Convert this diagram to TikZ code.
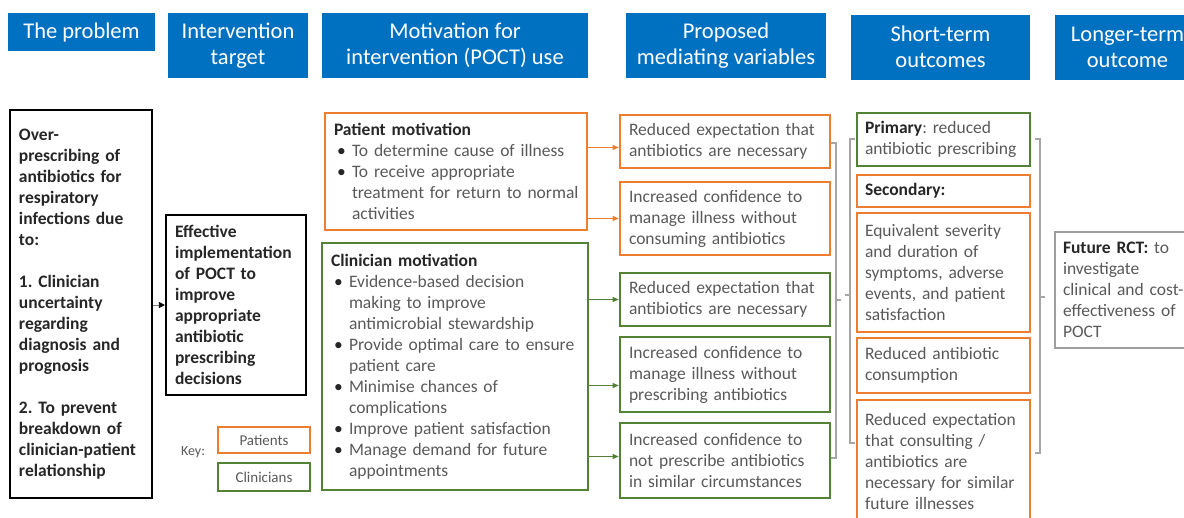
\documentclass[tikz,border=0pt]{standalone}
\usepackage{fontspec}
\setmainfont{Carlito}
\usetikzlibrary{positioning}
\usetikzlibrary{arrows.meta}
\definecolor{hblue}{HTML}{0070C0}
\definecolor{orng}{HTML}{ED7D31}
\definecolor{grn}{HTML}{538135}
\definecolor{txtg}{HTML}{595959}
\definecolor{txtk}{HTML}{262626}
\definecolor{brkgray}{HTML}{A6A6A6}
\frenchspacing
\hbadness=10000 \hfuzz=20pt
\newcommand{\bodyfont}{\fontsize{17.5}{21}\selectfont}
\newcommand{\Hd}[1]{\textbf{\textcolor{txtk}{#1}}}
\newcommand{\bitem}[1]{\par\hangindent=18pt\hangafter=1\noindent\makebox[18pt][l]{\hspace{3pt}\textcolor{txtk}{\textbullet}}#1\par}
\tikzset{
    hdr/.style = {rectangle, fill=hblue, text=white, align=center, inner sep=0pt, font=\fontsize{22.5}{26}\selectfont},
    boxk/.style = {rectangle, draw=black, line width=2.2pt, inner xsep=9pt, inner ysep=0pt, align=left, text=txtk, font=\bodyfont\bfseries},
    boxo/.style = {rectangle, draw=orng, line width=2.6pt, inner xsep=9pt, inner ysep=0pt, align=left, text=txtg, font=\bodyfont},
    boxg/.style = {rectangle, draw=grn, line width=2.6pt, inner xsep=9pt, inner ysep=0pt, align=left, text=txtg, font=\bodyfont},
    boxgr/.style = {rectangle, draw=gray!75, line width=1.4pt, inner xsep=8pt, inner ysep=0pt, align=left, text=txtg, font=\bodyfont},
    keybox/.style = {rectangle, line width=2pt, minimum width=92pt, text=txtg, font=\fontsize{15}{18}\selectfont},
    edgeo/.style = {-{Triangle[length=6pt,width=5pt]}, orng, line width=0.8pt},
    edgeg/.style = {-{Triangle[length=6pt,width=5pt]}, grn, line width=0.8pt},
    edgek/.style = {-{Triangle[length=6pt,width=6pt,color=black]}, gray, line width=0.8pt},
    brk/.style = {brkgray, line width=1.2pt}
}

\begin{document}
\begin{tikzpicture}[x=1pt,y=-1pt]
\useasboundingbox (0,0) rectangle (1184,517);
% column headers
\node[hdr, minimum width=147pt, minimum height=38pt] at (81.5,32) (hprob) {The problem};
\node[hdr, minimum width=140pt, minimum height=65pt] at (238,45.5) (htarg) {Intervention\\ target};
\node[hdr, minimum width=266pt, minimum height=65pt] at (455,45.5) (hmot) {Motivation for\\ intervention (POCT) use};
\node[hdr, minimum width=200pt, minimum height=65pt] at (726,45.5) (hmed) {Proposed\\ mediating variables};
\node[hdr, minimum width=179pt, minimum height=65pt] at (940.5,47) (hshort) {Short-term\\ outcomes};
\node[hdr, minimum width=145pt, minimum height=65pt] at (1127.5,47) (hlong) {Longer-term\\ outcome};
%
\node[boxk, text width=124pt, minimum height=388pt] at (81,304) (prob) {Over-\\ prescribing of\\ antibiotics for\\ respiratory\\ infections due\\ to:\\[21pt] 1. Clinician\\ uncertainty\\ regarding\\ diagnosis and\\ prognosis\\[21pt] 2. To prevent\\ breakdown of\\ clinician-patient\\ relationship};
\node[boxk, text width=122pt, minimum height=180pt] at (236,305) (targ) {Effective\\ implementation\\ of POCT to\\ improve\\ appropriate\\ antibiotic\\ prescribing\\ decisions};
% key
\node[keybox, draw=orng, minimum height=26pt] at (264,440) (keyp) {Patients};
\node[keybox, draw=grn, minimum height=28pt, below=8pt of keyp] (keyc) {Clinicians};
\node[text=txtg, font=\fontsize{14}{17}\selectfont] at (193,452) (keyl) {Key:};
%
\node[boxo, text width=244pt, minimum height=117pt] at (456,171.5) (pmot) {\Hd{Patient motivation}\bitem{To determine cause of illness}\bitem{To receive appropriate\newline \mbox{treatment for return to normal}\newline activities}};
\node[boxg, text width=248pt, minimum height=247pt] at (455,366.5) (cmot) {\Hd{Clinician motivation}\bitem{Evidence-based decision\newline making to improve\newline antimicrobial stewardship}\bitem{Provide optimal care to ensure\newline patient care}\bitem{Minimise chances of\newline complications}\bitem{Improve patient satisfaction}\bitem{Manage demand for future\newline appointments}};
%
\node[boxo, text width=192pt, minimum height=53pt] at (725,141.5) (med1) {Reduced expectation that\\ antibiotics are necessary};
\node[boxo, text width=192pt, minimum height=73pt] at (725,218.5) (med2) {Increased confidence to\\ manage illness without\\ consuming antibiotics};
\node[boxg, text width=192pt, minimum height=53pt] at (725,299.5) (med3) {Reduced expectation that\\ antibiotics are necessary};
\node[boxg, text width=192pt, minimum height=75pt] at (725,374.5) (med4) {Increased confidence to\\ manage illness without\\ prescribing antibiotics};
\node[boxg, text width=192pt, minimum height=75pt] at (725,460.5) (med5) {Increased confidence to\\ not prescribe antibiotics\\ in similar circumstances};
%
\node[boxg, text width=157pt, inner xsep=8pt, minimum height=53pt] at (943.5,139.5) (prim) {\Hd{Primary}: reduced\\ antibiotic prescribing};
\node[boxo, text width=157pt, inner xsep=8pt, minimum height=32pt] at (943.5,191) (sec) {\Hd{Secondary:}};
\node[boxo, text width=157pt, inner xsep=8pt, minimum height=119pt] at (943.5,272.5) (equiv) {Equivalent severity\\ and duration of\\ symptoms, adverse\\ events, and patient\\ satisfaction};
\node[boxo, text width=157pt, inner xsep=8pt, minimum height=55pt] at (943.5,365.5) (cons) {Reduced antibiotic\\ consumption};
\node[boxo, text width=157pt, inner xsep=8pt, minimum height=122pt] at (943.5,461) (expc) {Reduced expectation\\ that consulting /\\ antibiotics are\\ necessary for similar\\ future illnesses};
%
\node[boxgr, text width=129pt, minimum height=116pt] at (1127.5,290) (rct) {\Hd{Future RCT:} to\\ investigate\\ clinical and cost-\\ effectiveness of\\ POCT};
% arrows
\coordinate (m1in) at ([yshift=-6pt]med1.west);
\coordinate (m2in) at (med2.west);
\coordinate (m3in) at (med3.west);
\coordinate (m4in) at ([yshift=-11pt]med4.west);
\coordinate (m5in) at ([yshift=4pt]med5.west);
\draw[edgek] (prob.east |- targ.west) -- (targ.west);
\draw[edgeo] (pmot.east |- m1in) -- (m1in);
\draw[edgeo] (pmot.east |- m2in) -- (m2in);
\draw[edgeg] (cmot.east |- m3in) -- (m3in);
\draw[edgeg] (cmot.east |- m4in) -- (m4in);
\draw[edgeg] (cmot.east |- m5in) -- (m5in);
% brackets
\draw[brk] (831,143) -- (836,143) -- (836,458) -- (831,458);
\draw[brk] (836,300) -- (841,300);
\draw[brk] (855,139) -- (850,139) -- (850,443) -- (855,443);
\draw[brk] (850,295) -- (845,295);
\draw[brk] (1035,139) -- (1040,139) -- (1040,453) -- (1035,453);
\draw[brk] (1040,297) -- (1045,297);
\end{tikzpicture}
\end{document}
